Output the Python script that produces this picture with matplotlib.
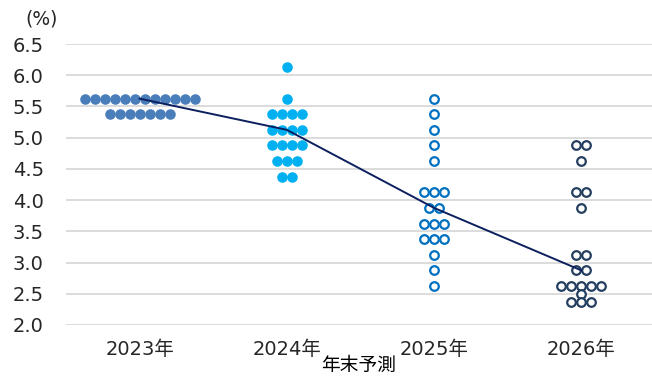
import numpy as np
import matplotlib
matplotlib.use('Agg')
import matplotlib.pyplot as plt

plt.rcParams['font.family'] = ['DejaVu Sans', 'Noto Sans CJK JP']

# 年末予測の政策金利 (各参加者の見通し)
years = ['2023年', '2024年', '2025年', '2026年']
levels_2023 = [5.625, 5.375]
counts_2023 = [12, 7]
levels_2024 = [6.125, 5.625, 5.375, 5.125, 4.875, 4.625, 4.375]
counts_2024 = [1, 1, 4, 4, 4, 3, 2]
levels_2025 = [5.625, 5.375, 5.125, 4.875, 4.625, 4.125, 3.875, 3.625, 3.375, 3.125, 2.875, 2.625]
counts_2025 = [1, 1, 1, 1, 1, 3, 2, 3, 3, 1, 1, 1]
levels_2026 = [4.875, 4.625, 4.125, 3.875, 3.125, 2.875, 2.625, 2.5, 2.375]
counts_2026 = [2, 1, 2, 1, 2, 2, 5, 1, 3]
medians = [5.625, 5.125, 3.875, 2.875]

dx = 0.068


def dots(i, levels, counts):
    xs, ys = [], []
    for lv, n in zip(levels, counts):
        off = (np.arange(n) - (n - 1) / 2) * dx
        xs.extend(i + off)
        ys.extend([lv] * n)
    return np.array(xs), np.array(ys)


fig = plt.figure(figsize=(6.52, 3.76), dpi=100)
ax = fig.add_axes([66 / 652, 1 - 325 / 376, 1 - 66 / 652, 281 / 376])

x, y = dots(0, levels_2023, counts_2023)
ax.plot(x, y, 'o', ms=7.6, mfc='#4a7ebb', mec='none', zorder=3)
x, y = dots(1, levels_2024, counts_2024)
ax.plot(x, y, 'o', ms=7.6, mfc='#00b0f0', mec='none', zorder=3)
x, y = dots(2, levels_2025, counts_2025)
ax.plot(x, y, 'o', ms=6.2, mfc='white', mec='#0070c0', mew=1.6, zorder=3)
x, y = dots(3, levels_2026, counts_2026)
ax.plot(x, y, 'o', ms=6.2, mfc='white', mec='#243f60', mew=1.6, zorder=3)

ax.plot(range(4), medians, color='#0c1f5e', lw=1.4, zorder=4)

ax.set_xlim(-0.5, 3.48)
ax.set_ylim(2.0, 6.5)
ax.set_yticks(np.arange(2.0, 6.51, 0.5))
ax.set_yticklabels(['%.1f' % v for v in np.arange(2.0, 6.51, 0.5)], fontsize=14)
ax.set_xticks(range(4))
ax.set_xticklabels(years, fontsize=14)
ax.tick_params(axis='y', length=0, pad=16, colors='#262626')
ax.tick_params(axis='x', length=0, pad=11, colors='#262626')
ax.yaxis.grid(True, color='#d9d9d9', lw=1.3)
ax.set_axisbelow(True)
for s in ax.spines.values():
    s.set_visible(False)
ax.set_xlabel('年末予測', fontsize=13.5, labelpad=-3, family=['Noto Sans CJK JP'])
fig.text(25 / 652, 1 - 19 / 376, '(%)', fontsize=13.5, va='center', ha='left', color='#262626')

fig.savefig('out.png', dpi=100)
